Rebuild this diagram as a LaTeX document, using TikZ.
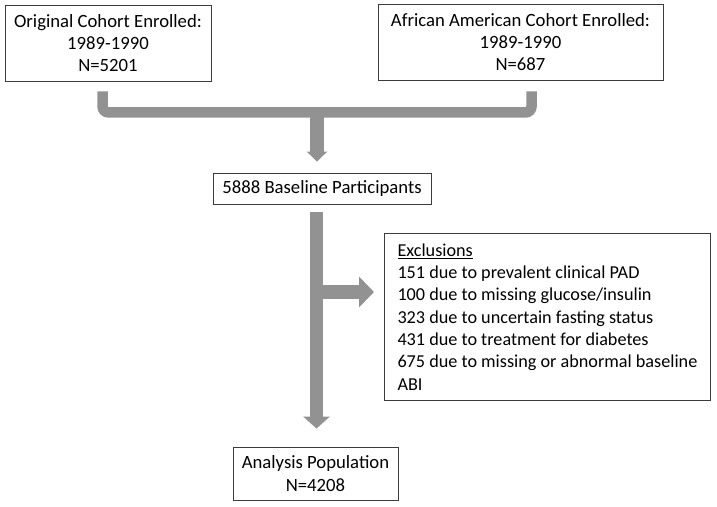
\documentclass[tikz,border=0pt]{standalone}
\usepackage{fontspec}
\setmainfont{Carlito}
\usetikzlibrary{arrows.meta,calc}
\definecolor{arrowgray}{RGB}{146,146,146}
\definecolor{boxline}{RGB}{60,60,60}
\begin{document}
\begin{tikzpicture}[x=1pt,y=-1pt,
  box/.style={draw=boxline, line width=0.9pt, fill=white, inner sep=0pt, align=center,
              font=\fontsize{18.7}{22.3}\selectfont},
  fat/.style={draw=arrowgray, line width=#1},
]
\useasboundingbox[fill=white] (0,0) rectangle (717,506);

\node[box, minimum width=206pt, minimum height=76pt] (orig) at (108,43)
  {Original Cohort Enrolled:\\1989-1990\\N=5201};
\node[box, minimum width=285pt, minimum height=76pt] (afam) at (520.5,42)
  {African American Cohort Enrolled:\\1989-1990\\N=687};
\node[box, minimum width=218pt, minimum height=31pt] (base) at (322,188.5)
  {5888 Baseline Participants};
\node[box, minimum width=326pt, minimum height=167pt, align=left,
      font=\fontsize{18.2}{22.3}\selectfont,
      anchor=north west] (excl) at (384,233)
  {\underline{Exclusions}\\
   151 due to prevalent clinical PAD\\
   100 due to missing glucose/insulin\\
   323 due to uncertain fasting status\\
   431 due to treatment for diabetes\\
   675 due to missing or abnormal baseline\\
   ABI};
\node[box, minimum width=165pt, minimum height=53pt] (ana) at (315.5,473.5)
  {Analysis Population\\N=4208};

% bracket
\coordinate (bl) at ($(orig.south)+(-5.5,10)$);
\coordinate (br) at ($(afam.south)+(11,11)$);
\coordinate (join) at ($($(bl)!0.5!(br)$)+(0,21)$);
\draw[fat=10.5pt, rounded corners=6pt] (bl) -- ++(0,21) -| (br);
\draw[fat=14pt, -{Triangle[length=10pt,width=20pt]}] ($(join)+(0,-4)$) -- ($(base.north)+(-5,-11)$);

% main arrow
\coordinate (tap) at ($(excl.north west)+(-67.5,59)$);
\draw[fat=14pt, -{Triangle[length=15pt,width=30pt]}] (tap) -- ($(excl.north west)+(-10,59)$);
\draw[fat=13pt, -{Triangle[length=12pt,width=26pt]}] ($(base.south)+(-5.5,8)$) -- ($(ana.north)+(1,-18)$);
\end{tikzpicture}
\end{document}
